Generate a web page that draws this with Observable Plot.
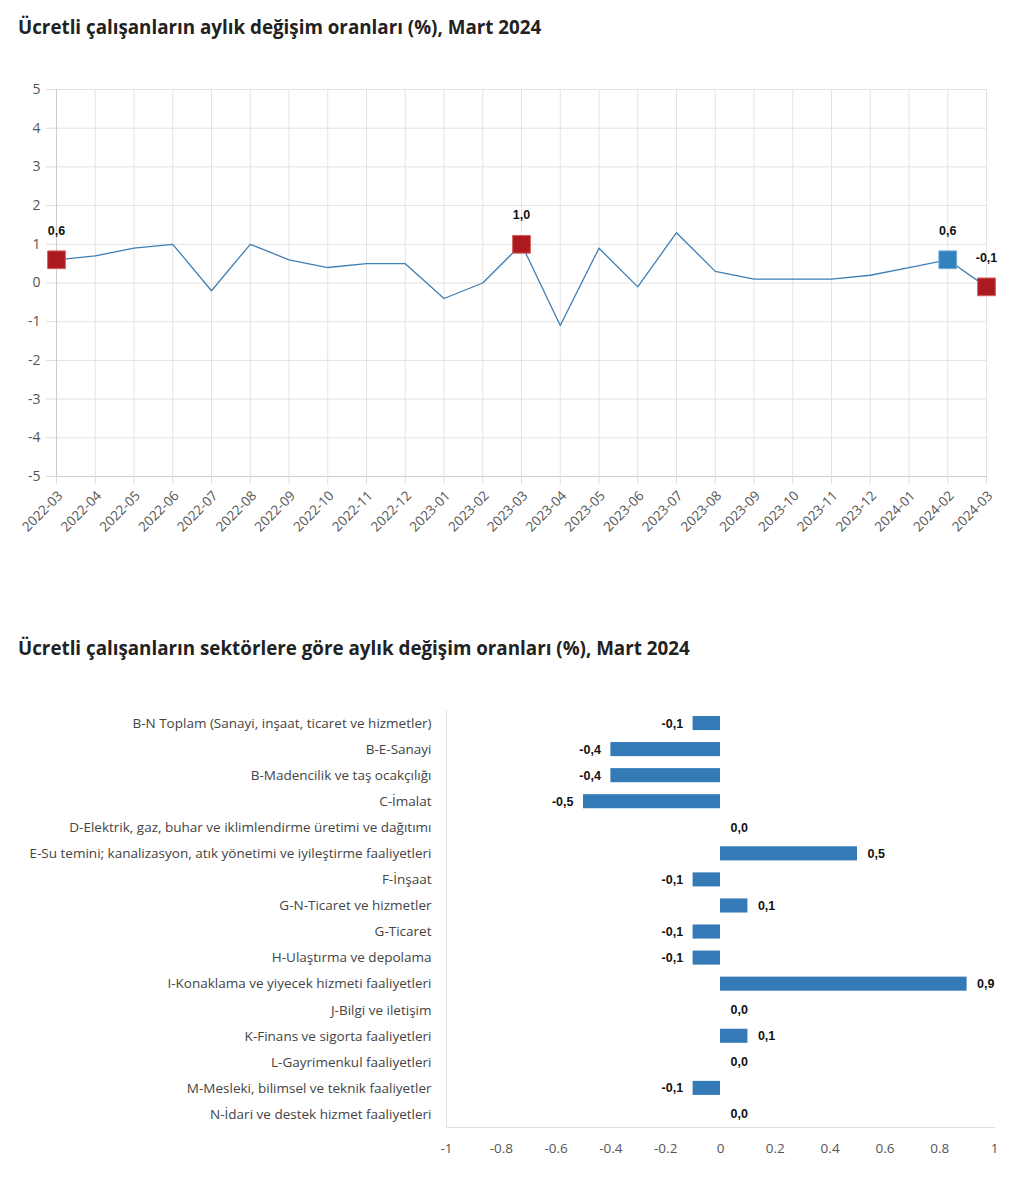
<!DOCTYPE html>
<html>
<head>
<meta charset="utf-8">
<script src="https://cdn.jsdelivr.net/npm/d3@7"></script>
<script src="https://cdn.jsdelivr.net/npm/@observablehq/plot@0.6"></script>
<style>
  body { margin: 0; background: #fff; width: 1032px; height: 1200px; position: relative; font-family: "Open Sans", sans-serif; }
  .title { position: absolute; left: 18px; font-family: "Open Sans", sans-serif; font-weight: 700; font-size: 18.8px; color: #222; white-space: nowrap; }
  #t1 { top: 14px; }
  #t2 { top: 635px; }
  #c1 { position: absolute; left: 0; top: 60px; }
  #c2 { position: absolute; left: 0; top: 690px; }
</style>
</head>
<body>
<div class="title" id="t1">Ücretli çalışanların aylık değişim oranları (%), Mart 2024</div>
<div id="c1"></div>
<div class="title" id="t2">Ücretli çalışanların sektörlere göre aylık değişim oranları (%), Mart 2024</div>
<div id="c2"></div>
<script>
const months = ["2022-03","2022-04","2022-05","2022-06","2022-07","2022-08","2022-09","2022-10","2022-11","2022-12","2023-01","2023-02","2023-03","2023-04","2023-05","2023-06","2023-07","2023-08","2023-09","2023-10","2023-11","2023-12","2024-01","2024-02","2024-03"];
const monthlyChange = [0.6,0.7,0.9,1.0,-0.2,1.0,0.6,0.4,0.5,0.5,-0.4,0.0,1.0,-1.1,0.9,-0.1,1.3,0.3,0.1,0.1,0.1,0.2,0.4,0.6,-0.1];
const redMonths = ["2022-03","2023-03","2024-03"];
const blueMonths = ["2024-02"];
const yTicks = [-5,-4,-3,-2,-1,0,1,2,3,4,5];

const sectors = [
  "B-N Toplam (Sanayi, inşaat, ticaret ve hizmetler)",
  "B-E-Sanayi",
  "B-Madencilik ve taş ocakçılığı",
  "C-İmalat",
  "D-Elektrik, gaz, buhar ve iklimlendirme üretimi ve dağıtımı",
  "E-Su temini; kanalizasyon, atık yönetimi ve iyileştirme faaliyetleri",
  "F-İnşaat",
  "G-N-Ticaret ve hizmetler",
  "G-Ticaret",
  "H-Ulaştırma ve depolama",
  "I-Konaklama ve yiyecek hizmeti faaliyetleri",
  "J-Bilgi ve iletişim",
  "K-Finans ve sigorta faaliyetleri",
  "L-Gayrimenkul faaliyetleri",
  "M-Mesleki, bilimsel ve teknik faaliyetler",
  "N-İdari ve destek hizmet faaliyetleri"
];
const sectorChange = [-0.1,-0.4,-0.4,-0.5,0.0,0.5,-0.1,0.1,-0.1,-0.1,0.9,0.0,0.1,0.0,-0.1,0.0];
const xTicks = [-1,-0.8,-0.6,-0.4,-0.2,0,0.2,0.4,0.6,0.8,1];

const fmt = v => v.toFixed(1).replace(".", ",");
const series = months.map((m, i) => ({month: m, value: monthlyChange[i]}));
const reds = series.filter(d => redMonths.includes(d.month));
const blues = series.filter(d => blueMonths.includes(d.month));
const marked = series.filter(d => redMonths.includes(d.month) || blueMonths.includes(d.month));
const labelFont = "Liberation Sans, Arial, sans-serif";

const chart1 = Plot.plot({
  width: 1032,
  height: 500,
  marginLeft: 56,
  marginRight: 46,
  marginTop: 29,
  marginBottom: 84,
  style: {fontFamily: "Open Sans, sans-serif", fontSize: "13.5px", color: "#555", background: "#fff"},
  x: {type: "point", domain: months, padding: 0, round: false, label: null},
  y: {domain: [-5, 5], label: null},
  marks: [
    Plot.ruleY(yTicks, {stroke: "#e3e3e3", strokeWidth: 1}),
    Plot.ruleX(months, {stroke: "#e3e3e3", strokeWidth: 1, y1: -5, y2: 5}),
    Plot.ruleY([-5], {stroke: "#cccccc"}),
    Plot.ruleX([months[0]], {stroke: "#cccccc", y1: -5, y2: 5}),
    Plot.axisY({ticks: yTicks, tickFormat: d => String(d), tickSize: 10, tickPadding: 6, stroke: "#dddddd", fill: "#555", fontSize: 14}),
    Plot.axisX({tickSize: 8, tickFormat: () => "", stroke: "#dddddd"}),
    Plot.axisX({tickRotate: -45, tickSize: 0, tickPadding: 17, dx: 4, fill: "#555", fontSize: 13.5}),
    Plot.line(series, {x: "month", y: "value", stroke: "#3f7fb5", strokeWidth: 1.3}),
    Plot.dot(reds, {x: "month", y: "value", symbol: "square", r: 10, fill: "#ac1a1f", stroke: "#d06060", strokeWidth: 1}),
    Plot.dot(blues, {x: "month", y: "value", symbol: "square", r: 10, fill: "#3182bd", stroke: "#70a8d8", strokeWidth: 1}),
    Plot.text(marked, {x: "month", y: "value", text: d => fmt(d.value), dy: -29, fill: "#111", fontWeight: 700, fontSize: 12.5, fontFamily: labelFont})
  ]
});
document.getElementById("c1").appendChild(chart1);

const bars = sectors.map((s, i) => ({sector: s, value: sectorChange[i]}));
const chart2 = Plot.plot({
  width: 1032,
  height: 480,
  marginLeft: 446,
  marginRight: 38,
  marginTop: 20,
  marginBottom: 43,
  style: {fontFamily: "Open Sans, sans-serif", fontSize: "13.5px", color: "#444", background: "#fff"},
  x: {domain: [-1, 1], label: null},
  y: {domain: sectors, paddingInner: 0.46, paddingOuter: 0.23, round: false, label: null},
  marks: [
    Plot.ruleX([-1], {stroke: "#e0e0e0"}),
    Plot.frame({anchor: "bottom", stroke: "#e0e0e0"}),
    Plot.axisY({tickSize: 0, tickPadding: 15, fill: "#444", fontSize: 13.5}),
    Plot.axisX({ticks: xTicks, tickFormat: d => String(d), tickSize: 0, tickPadding: 16, fill: "#555", fontSize: 13.5}),
    Plot.barX(bars, {x: "value", y: "sector", fill: "#337ab7"}),
    Plot.text(bars.filter(d => d.value < 0), {x: "value", y: "sector", text: d => fmt(d.value), textAnchor: "end", dx: -10, fill: "#111", fontWeight: 700, fontSize: 12.5, fontFamily: labelFont}),
    Plot.text(bars.filter(d => d.value >= 0), {x: "value", y: "sector", text: d => fmt(d.value), textAnchor: "start", dx: 10, fill: "#111", fontWeight: 700, fontSize: 12.5, fontFamily: labelFont})
  ]
});
document.getElementById("c2").appendChild(chart2);
</script>
</body>
</html>
